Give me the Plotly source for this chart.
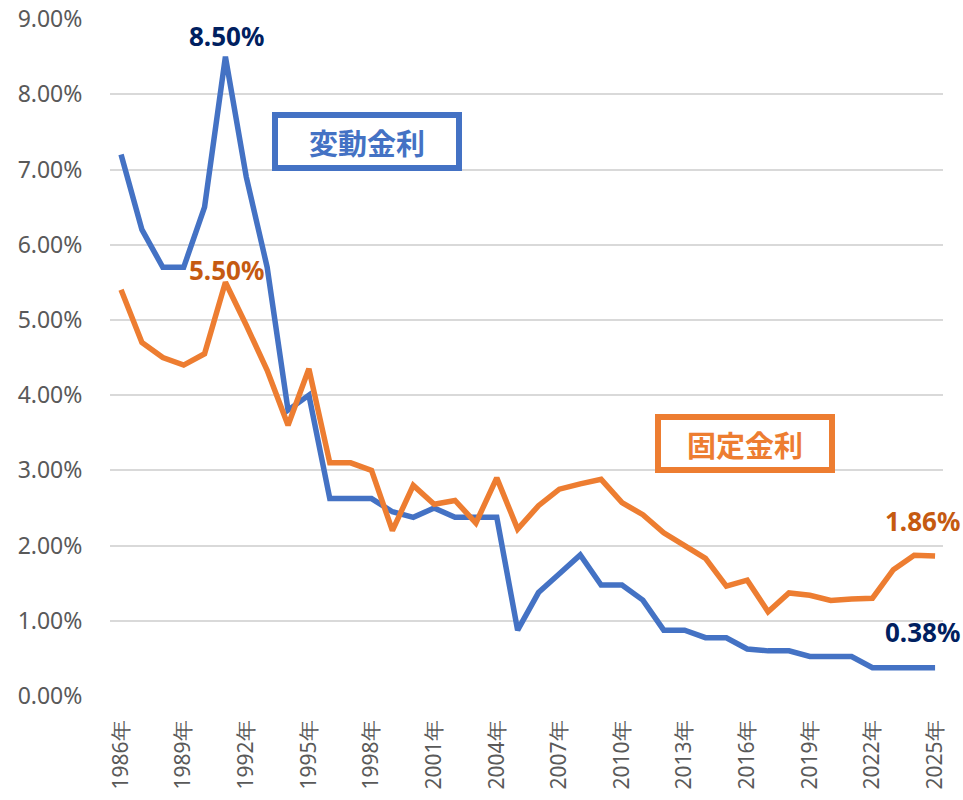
import plotly.graph_objects as go

years = list(range(1986, 2026))
variable_rate = [7.2, 6.2, 5.7, 5.7, 6.5, 8.5, 6.9, 5.7, 3.8, 4.0,
                 2.625, 2.625, 2.625, 2.45, 2.375, 2.5, 2.375, 2.375, 2.375, 0.875,
                 1.375, 1.625, 1.875, 1.475, 1.475, 1.275, 0.875, 0.875, 0.775, 0.775,
                 0.625, 0.6, 0.6, 0.525, 0.525, 0.525, 0.375, 0.375, 0.375, 0.375]
fixed_rate = [5.4, 4.7, 4.5, 4.4, 4.55, 5.5, 4.93, 4.33, 3.6, 4.35,
              3.1, 3.1, 3.0, 2.2, 2.8, 2.55, 2.6, 2.3, 2.9, 2.22,
              2.53, 2.75, 2.82, 2.88, 2.57, 2.41, 2.17, 2.01, 1.83, 1.46,
              1.54, 1.12, 1.37, 1.34, 1.27, 1.29, 1.30, 1.68, 1.87, 1.86]
y_ticks = [0, 1, 2, 3, 4, 5, 6, 7, 8, 9]
x_ticks = years[::3]

BLUE = "#4472C4"
ORANGE = "#ED7D31"
NAVY = "#002060"
DARK_ORANGE = "#C55A11"
FONT = "Noto Sans, Open Sans, sans-serif"

fig = go.Figure()
fig.add_trace(go.Scatter(x=years, y=variable_rate, mode="lines",
                         line=dict(color=BLUE, width=5.5), name="変動金利"))
fig.add_trace(go.Scatter(x=years, y=fixed_rate, mode="lines",
                         line=dict(color=ORANGE, width=5.5), name="固定金利"))

# value labels: (x, y, text, colour, xshift, yshift)
labels = [
    (years[5], variable_rate[5], "8.50%", NAVY, 1, 21),
    (years[5], fixed_rate[5], "5.50%", DARK_ORANGE, 1, 12),
    (years[-1], fixed_rate[-1], "1.86%", DARK_ORANGE, -13, 35),
    (years[-1], variable_rate[-1], "0.38%", NAVY, -13, 36),
]
for x, y, t, c, dx, dy in labels:
    fig.add_annotation(x=x, y=y, text=f"<b>{t}</b>", showarrow=False,
                       xshift=dx, yshift=dy,
                       font=dict(family=FONT, size=26, color=c))

# boxed series labels
fig.add_annotation(x=1997.8, y=7.37, text="<b>変動金利</b>", showarrow=False,
                   font=dict(family="Noto Sans CJK JP", size=29, color=BLUE),
                   bordercolor=BLUE, borderwidth=6, borderpad=7,
                   bgcolor="rgba(255,255,255,0)", width=164, height=33,
                   xanchor="center", yanchor="middle")
fig.add_annotation(x=2015.9, y=3.36, text="<b>固定金利</b>", showarrow=False,
                   font=dict(family="Noto Sans CJK JP", size=29, color=ORANGE),
                   bordercolor=ORANGE, borderwidth=6, borderpad=7,
                   bgcolor="rgba(255,255,255,0)", width=154, height=33,
                   xanchor="center", yanchor="middle")

fig.update_layout(
    width=963, height=800,
    margin=dict(l=110, r=20, t=19, b=104),
    plot_bgcolor="white", paper_bgcolor="white",
    showlegend=False,
    font=dict(family=FONT, color="#595959", size=22),
)
fig.update_xaxes(range=[1985.47, 2025.38], tickvals=x_ticks,
                 ticktext=[f"{y}年" for y in x_ticks], tickangle=-90,
                 showgrid=False, zeroline=False, showline=False,
                 ticks="outside", ticklen=15, tickcolor="rgba(0,0,0,0)",
                 automargin=False,
                 tickfont=dict(size=21, color="#595959"))
fig.update_yaxes(range=[0, 9.001], tickvals=y_ticks,
                 ticktext=[f"{v:.2f}%" for v in y_ticks],
                 showgrid=True, gridcolor="#D9D9D9", gridwidth=2,
                 zeroline=False, showline=False,
                 ticks="outside", ticklen=22, tickcolor="rgba(0,0,0,0)",
                 automargin=False,
                 tickfont=dict(size=23, color="#595959"))

fig.write_html("out.html", config={"displayModeBar": False},
               post_script="document.body.style.margin='0';document.body.style.overflow='hidden';")
